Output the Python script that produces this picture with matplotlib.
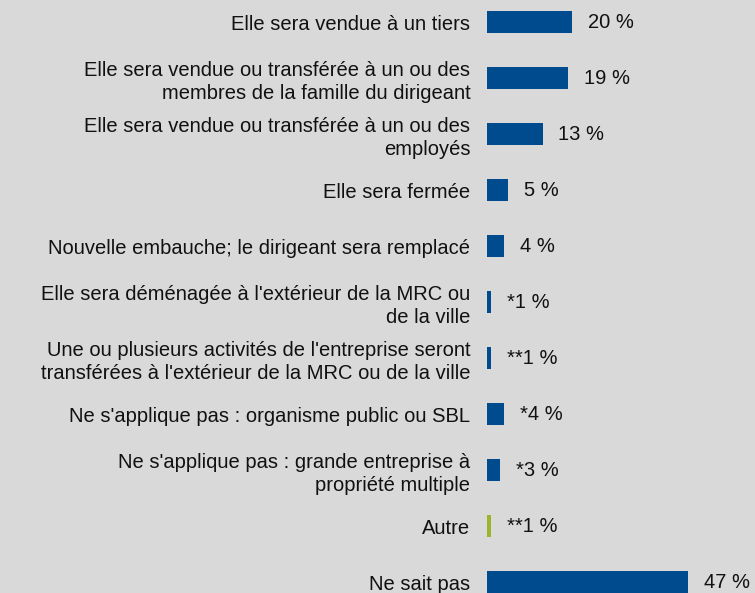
import matplotlib.pyplot as plt

plt.rcParams['font.family'] = ['Liberation Sans', 'DejaVu Sans']

# categories, top to bottom
categories = [
    "Elle sera vendue à un tiers",
    "Elle sera vendue ou transférée à un ou des\nmembres de la famille du dirigeant",
    "Elle sera vendue ou transférée à un ou des\nemployés",
    "Elle sera fermée",
    "Nouvelle embauche; le dirigeant sera remplacé",
    "Elle sera déménagée à l'extérieur de la MRC ou\nde la ville",
    "Une ou plusieurs activités de l'entreprise seront\ntransférées à l'extérieur de la MRC ou de la ville",
    "Ne s'applique pas : organisme public ou SBL",
    "Ne s'applique pas : grande entreprise à\npropriété multiple",
    "Autre",
    "Ne sait pas",
]
values = [20, 19, 13, 5, 4, 1, 1, 4, 3, 1, 47]
value_labels = ["20 %", "19 %", "13 %", "5 %", "4 %", "*1 %", "**1 %",
                "*4 %", "*3 %", "**1 %", "47 %"]
colors = ["#004b8d"] * 9 + ["#9bb52a", "#004b8d"]

BG = "#d9d9d9"
W, H = 755, 593
FS = 14.5

fig = plt.figure(figsize=(W / 100, H / 100), dpi=100, facecolor=BG)
ax = fig.add_axes([487 / W, 0, 268 / W, 1])
ax.set_facecolor(BG)

pos = list(range(len(values)))
ax.barh(pos, values, height=22 / 56, color=colors)

for p, v, lab in zip(pos, values, value_labels):
    ax.annotate(lab, (v, p), xytext=(11.5, 0), textcoords="offset points",
                va="center", ha="left", fontsize=FS, color="#111111")

ax.set_xlim(0, 268 / 4.27)
ax.set_ylim((H - 22) / 56, -22 / 56)
ax.set_yticks(pos)
ax.set_yticklabels(categories, fontsize=FS, color="#111111", linespacing=1.28)
ax.tick_params(axis="y", length=0, pad=12)
ax.set_xticks([])
for s in ax.spines.values():
    s.set_visible(False)

fig.savefig("out.png", dpi=100, facecolor=BG)
